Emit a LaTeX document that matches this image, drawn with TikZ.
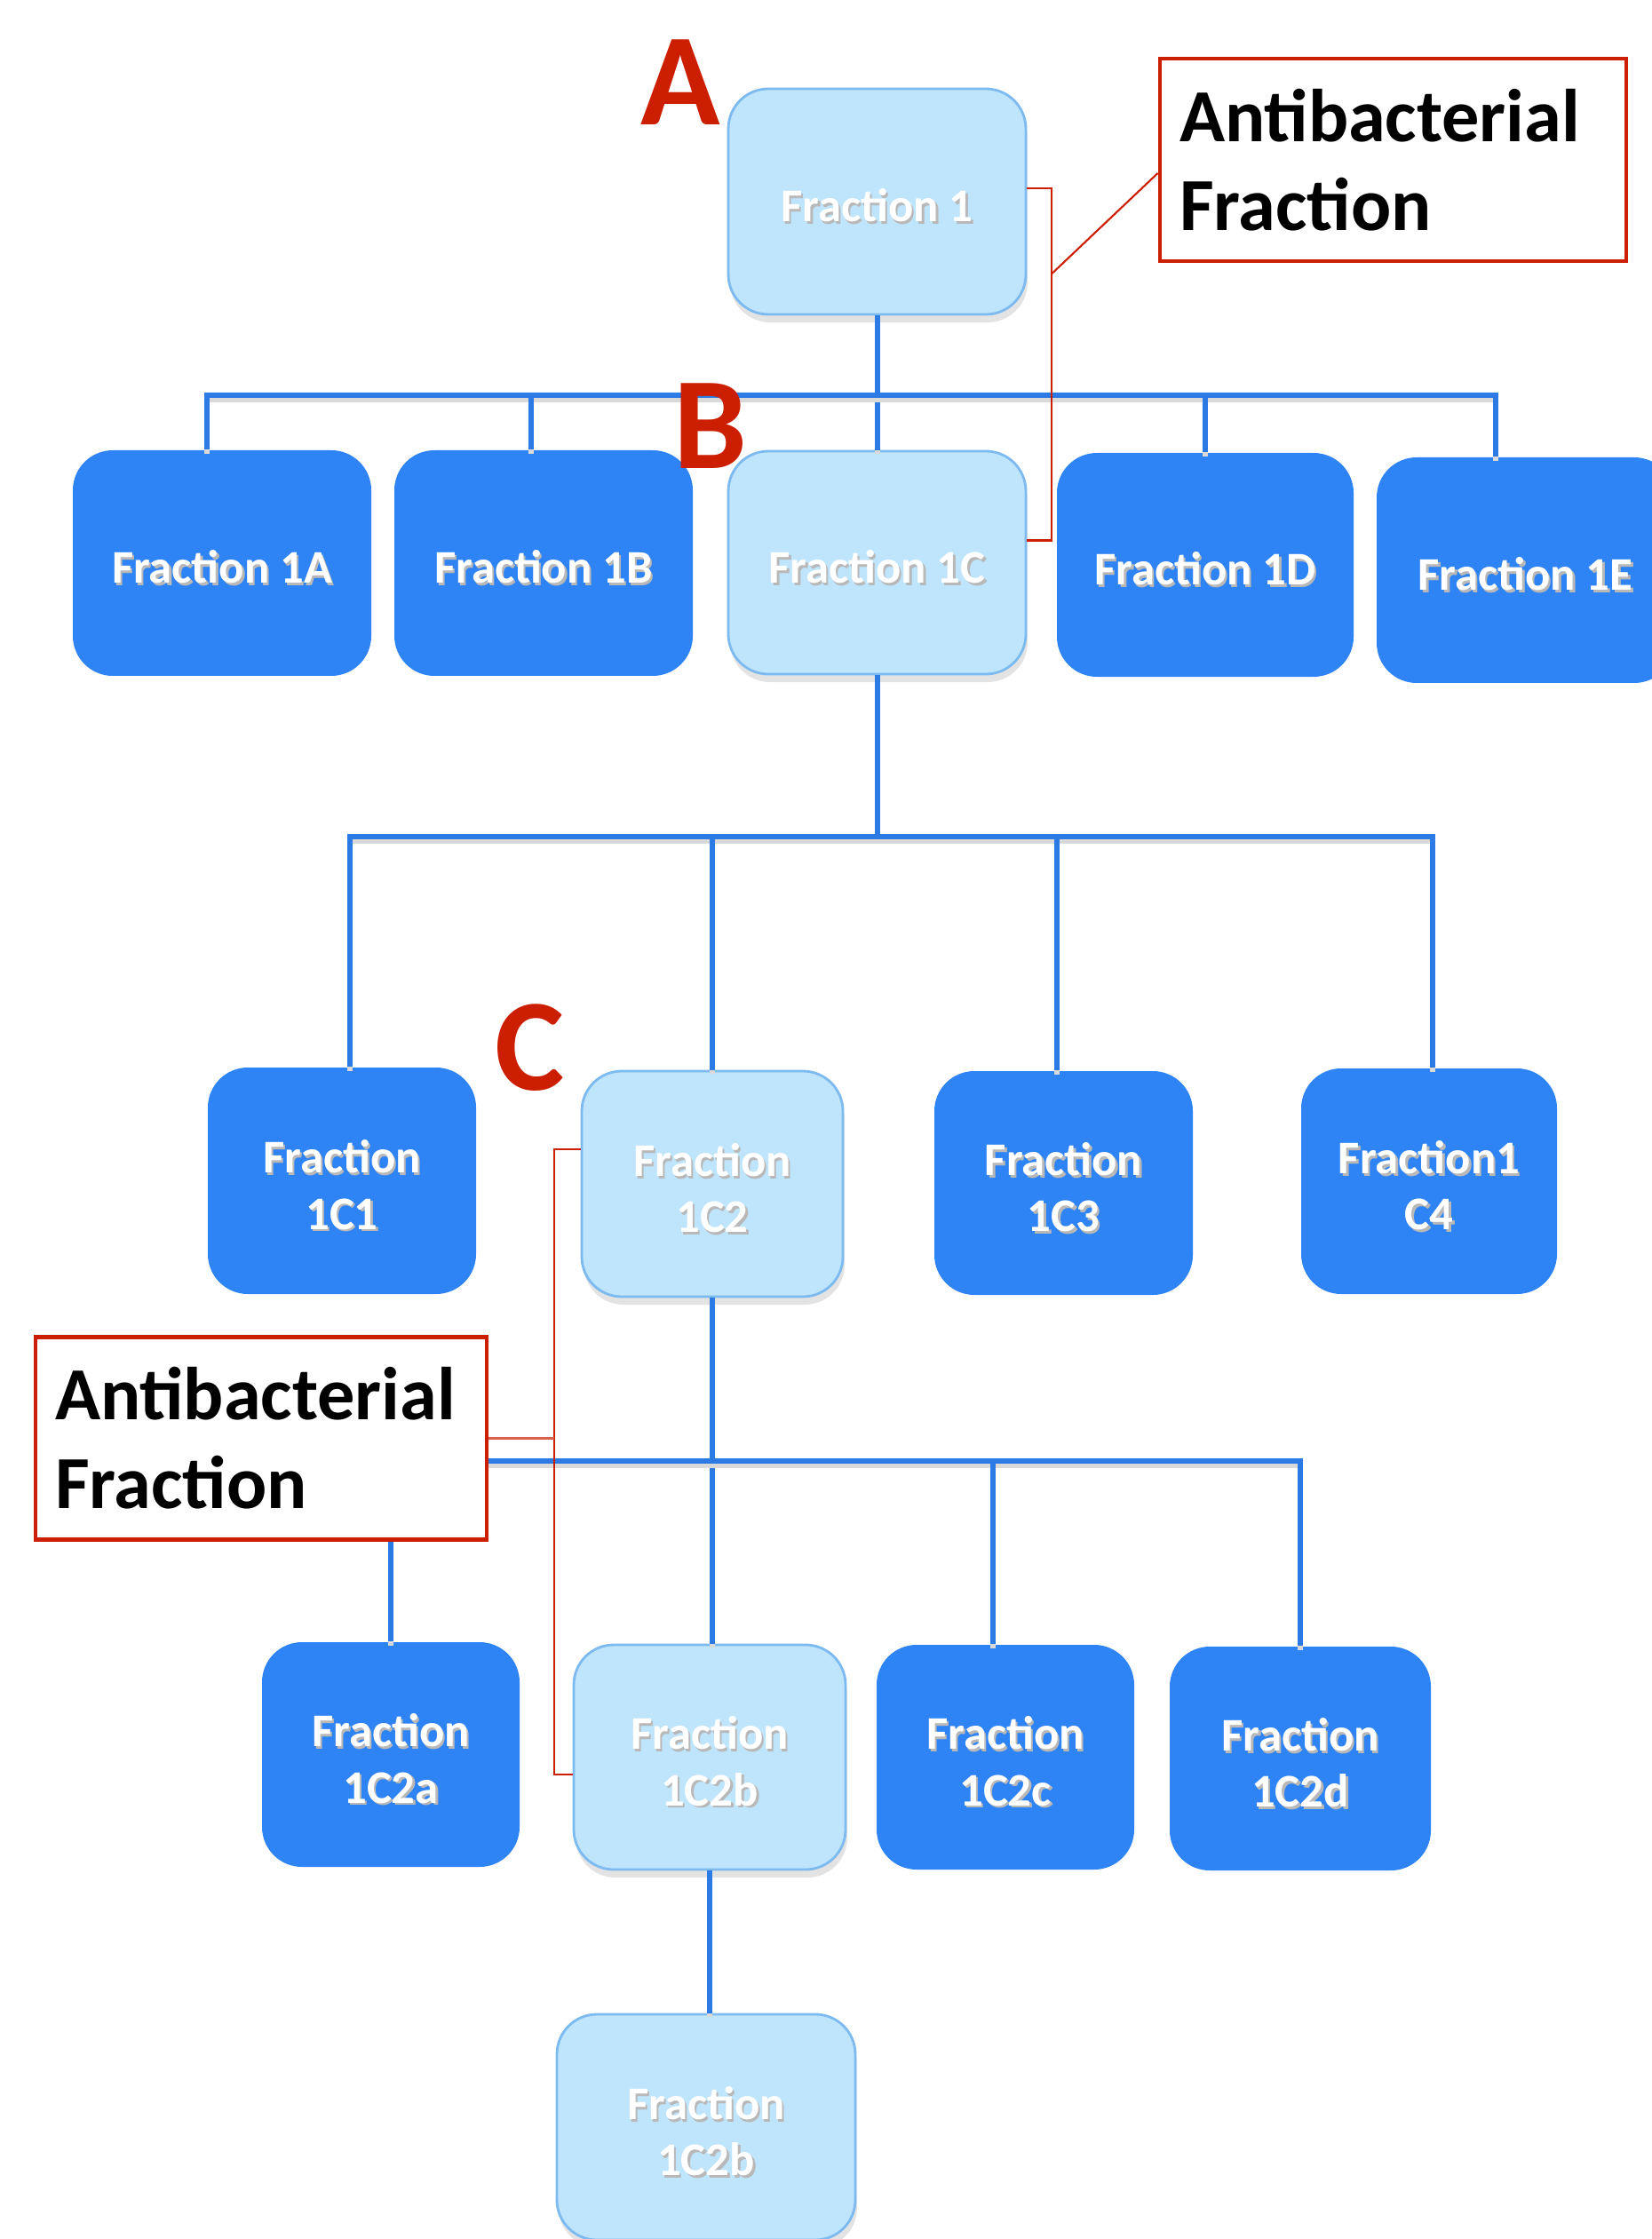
\documentclass[tikz,border=0pt]{standalone}
\usepackage{fontspec}
\setmainfont{Carlito}
\usetikzlibrary{shadows}
\definecolor{fracdark}{RGB}{46,131,245}
\definecolor{fraclight}{RGB}{191,229,252}
\definecolor{fracedge}{RGB}{125,186,240}
\definecolor{linkblue}{RGB}{44,123,229}
\definecolor{markred}{RGB}{204,30,0}
\newcommand{\shtxt}[1]{\leavevmode\raisebox{-0.6mm}[\height][\depth]{\rlap{\kern0.7pt\raisebox{-0.8pt}{\textcolor{black!28}{#1}}}#1}}
\tikzset{
	fracbox/.style={rounded corners=0.45cm, minimum width=3.35cm, minimum height=2.54cm, align=center, text=white, inner sep=0pt, font=\bfseries\fontsize{15}{18}\selectfont},
	darkfrac/.style={fracbox, fill=fracdark},
	lightfrac/.style={fracbox, fill=fraclight, draw=fracedge, line width=0.8pt, drop shadow={opacity=0.22, shadow xshift=0.2mm, shadow yshift=-0.9mm}},
	link/.style={draw=linkblue, line width=1.7pt, preaction={draw=black!15, line width=1.7pt, transform canvas={yshift=-1.3pt}}},
	abbox/.style={draw=markred, line width=1.4pt, fill=white, minimum height=2.28cm, align=left, inner sep=0.22cm, font=\bfseries\fontsize{24}{28.5}\selectfont},
	bracket/.style={draw=markred, line width=0.6pt},
	tagletter/.style={text=markred, inner sep=0pt, font=\bfseries\fontsize{42}{42}\selectfont}
}
\begin{document}
\begin{tikzpicture}
	\useasboundingbox (0,0) rectangle (18.59,-25.21);
	
	\node [lightfrac] (f1) at (9.875,-2.27) {\shtxt{Fraction 1}};
	
	\node [darkfrac, minimum width=3.36cm] (f1A) at (2.50,-6.34) {\shtxt{Fraction 1A}};
	\node [darkfrac, minimum width=3.36cm] (f1B) at (6.12,-6.34) {\shtxt{Fraction 1B}};
	\node [lightfrac, minimum height=2.51cm] (f1C) at (9.875,-6.335) {\shtxt{Fraction 1C}};
	\node [darkfrac, minimum width=3.34cm, minimum height=2.52cm] (f1D) at (13.57,-6.36) {\shtxt{Fraction 1D}};
	\node [darkfrac] (f1E) at (17.175,-6.42) {\shtxt{Fraction 1E}};
	
	\node [darkfrac, minimum width=3.02cm, minimum height=2.55cm] (f1C1) at (3.85,-13.295) {\shtxt{Fraction}\\\shtxt{1C1}};
	\node [lightfrac, minimum width=2.94cm] (f1C2) at (8.02,-13.33) {\shtxt{Fraction}\\\shtxt{1C2}};
	\node [darkfrac, minimum width=2.91cm, minimum height=2.52cm] (f1C3) at (11.975,-13.32) {\shtxt{Fraction}\\\shtxt{1C3}};
	\node [darkfrac, minimum width=2.88cm] (f1C4) at (16.09,-13.30) {\shtxt{Fraction1}\\\shtxt{C4}};
	
	\node [darkfrac, minimum width=2.90cm, minimum height=2.53cm] (f1C2a) at (4.40,-19.755) {\shtxt{Fraction}\\\shtxt{1C2a}};
	\node [lightfrac, minimum width=3.06cm, minimum height=2.53cm] (f1C2b) at (7.99,-19.785) {\shtxt{Fraction}\\\shtxt{1C2b}};
	\node [darkfrac, minimum width=2.90cm, minimum height=2.53cm] (f1C2c) at (11.32,-19.785) {\shtxt{Fraction}\\\shtxt{1C2c}};
	\node [darkfrac, minimum width=2.94cm, minimum height=2.52cm] (f1C2d) at (14.64,-19.80) {\shtxt{Fraction}\\\shtxt{1C2d}};
	
	\node [lightfrac, minimum width=3.36cm] (f1C2bb) at (7.95,-23.95) {\shtxt{Fraction}\\\shtxt{1C2b}};
	
	\coordinate (bus1) at (0,-4.45);
	\coordinate (bus2) at (0,-9.42);
	\coordinate (bus3) at (0,-16.45);
	
	\draw [link] (f1) -- (f1C);
	\draw [link] ([xshift=-1.7mm]f1A.north) |- ([xshift=-3.35mm]f1E.north |- bus1) -- ([xshift=-3.35mm]f1E.north);
	\draw [link] ([xshift=-1.4mm]f1B.north) -- ([xshift=-1.4mm]f1B.north |- bus1);
	\draw [link] (f1D.north) -- (f1D.north |- bus1);
	
	\draw [link] (f1C.south) -- (f1C.south |- bus2);
	\draw [link] ([xshift=0.9mm]f1C1.north) |- ([xshift=0.4mm]f1C4.north |- bus2) -- ([xshift=0.4mm]f1C4.north);
	\draw [link] (f1C2.north) -- (f1C2.north |- bus2);
	\draw [link] ([xshift=-0.75mm]f1C3.north) -- ([xshift=-0.75mm]f1C3.north |- bus2);
	
	\draw [link] (f1C2.south) -- (f1C2.south |- f1C2b.north);
	\draw [link] (f1C2a.north) |- (f1C2d.north |- bus3) -- (f1C2d.north);
	\draw [link] ([xshift=-1.4mm]f1C2c.north) -- ([xshift=-1.4mm]f1C2c.north |- bus3);
	\draw [link] (f1C2b.south) -- (f1C2b.south |- f1C2bb.north);
	
	\node [abbox, text width=4.81cm] (ab1) at (15.685,-1.80) {Antibacterial\\Fraction};
	\node [abbox, text width=4.64cm] (ab2) at (2.94,-16.195) {Antibacterial\\Fraction};
	
	\draw [bracket] ([yshift=1.5mm]f1.east) -- ++(0.28,0) coordinate (br1top) |- ([yshift=2.5mm]f1C.east);
	\draw [bracket] (br1top) ++(0,-0.96) -- ([yshift=-1.5mm]ab1.west);
	
	\draw [bracket] ([yshift=3.9mm]f1C2.west) -- ++(-0.30,0) coordinate (br2top) |- ([yshift=-1.95mm]f1C2b.west);
	\draw [bracket, draw=markred!70] (ab2.east) -- (ab2.east -| br2top);
	
	\node [tagletter] (lblA) at (7.665,-0.93) {A};
	\node [tagletter] (lblB) at (8.00,-4.80) {B};
	\node [tagletter] (lblC) at (5.97,-11.80) {C};
	
\end{tikzpicture}
\end{document}
